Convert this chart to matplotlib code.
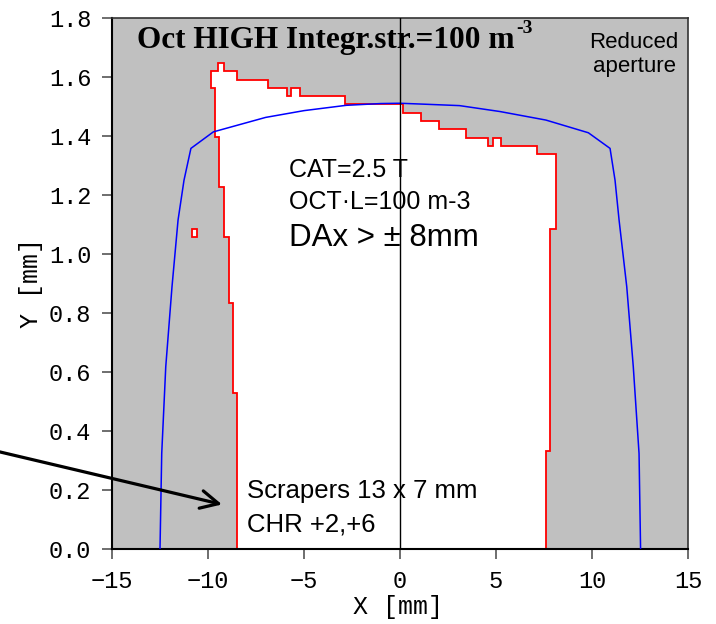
import numpy as np
import matplotlib.pyplot as plt
from matplotlib.patches import Polygon, Rectangle

# dynamic aperture boundary (red staircase), stored as steps
top_edges = [-9.86, -9.5, -9.17, -8.47, -6.86, -5.9, -5.69, -5.21, -2.88,
             0.14, 1.08, 2.01, 3.44, 4.57, 4.83, 5.24, 7.12, 8.11]
top_levels = [1.62, 1.646, 1.62, 1.59, 1.562, 1.536, 1.562, 1.535, 1.507,
              1.477, 1.452, 1.423, 1.394, 1.366, 1.394, 1.366, 1.339]
left_x = [-9.86, -9.65, -9.41, -9.17, -8.92, -8.71, -8.47]
left_breaks = [1.62, 1.562, 1.398, 1.228, 1.057, 0.835, 0.528, 0.0]
right_x = [8.11, 7.83, 7.6]
right_breaks = [1.339, 1.086, 0.333, 0.0]

# isolated stable island
island = (-10.83, 1.057, 0.27, 0.029)

# physical aperture (blue)
aper_x = [-12.5, -12.41, -12.2, -11.875, -11.56, -11.25, -10.89, -9.72,
          -7.0, -5.0, -2.8, -1.0, 0.0, 1.2, 3.1, 5.2, 7.6, 9.81, 10.94,
          11.2, 11.41, 11.81, 12.15, 12.45, 12.53]
aper_y = [0.0, 0.324, 0.618, 0.889, 1.115, 1.25, 1.358, 1.414,
          1.463, 1.486, 1.504, 1.510, 1.511, 1.508, 1.503, 1.483, 1.454,
          1.411, 1.358, 1.25, 1.115, 0.889, 0.618, 0.324, 0.0]

xticks = [-15, -10, -5, 0, 5, 10, 15]
yticks = [0.0, 0.2, 0.4, 0.6, 0.8, 1.0, 1.2, 1.4, 1.6, 1.8]


def staircase():
    pts = []
    # left edge, bottom to top
    for i in range(len(left_x) - 1, -1, -1):
        pts.append((left_x[i], left_breaks[i + 1]))
        pts.append((left_x[i], left_breaks[i]))
    # top edge, left to right
    for i in range(len(top_levels)):
        pts.append((top_edges[i], top_levels[i]))
        pts.append((top_edges[i + 1], top_levels[i]))
    # right edge, top to bottom
    for i in range(len(right_x)):
        pts.append((right_x[i], right_breaks[i]))
        pts.append((right_x[i], right_breaks[i + 1]))
    return np.array(pts)


fig = plt.figure(figsize=(7.16, 6.24), dpi=100)
ax = fig.add_axes([112 / 716, 75 / 624, 576 / 716, 531 / 624])
ax.set_facecolor('#c0c0c0')

ax.add_patch(Polygon(staircase(), closed=True, facecolor='white',
                     edgecolor='red', lw=1.3, zorder=2))
ax.add_patch(Rectangle(island[:2], island[2], island[3], facecolor='white',
                       edgecolor='red', lw=1.3, zorder=2))
ax.plot(aper_x, aper_y, color='blue', lw=1.1, zorder=3)
ax.axvline(0, color='black', lw=1.0, zorder=4)

ax.set_xlim(-15, 15)
ax.set_ylim(0, 1.8)
ax.set_xticks(xticks)
ax.set_yticks(yticks)
ax.set_xticklabels([str(v).replace('-', '\u2212') for v in xticks])
ax.set_yticklabels([f'{v:.1f}' for v in yticks])
ax.tick_params(direction='out', length=7, width=1.2, color='#555555',
               labelsize=17, pad=8, labelfontfamily='Liberation Mono')
for side in ['left', 'bottom']:
    ax.spines[side].set_linewidth(1.5)
for side in ['right', 'top']:
    ax.spines[side].set_linewidth(1.2)
    ax.spines[side].set_color('#333333')

fig.text(398 / 716, 1 - 607 / 624, 'X [mm]', ha='center', va='center',
         fontsize=18, family='Liberation Mono')
fig.text(31 / 716, 1 - 283 / 624, 'Y [mm]', ha='center', va='center',
         rotation=90, fontsize=18, family='Liberation Mono')

title = ax.text(-13.7, 1.698, 'Oct HIGH Integr.str.=100 m', ha='left',
                va='baseline', fontsize=22.5, fontweight='bold',
                family='Liberation Serif', zorder=5)
ax.annotate('-3', xy=(1, 0.62), xycoords=title, xytext=(1, 0),
            textcoords='offset points', ha='left', va='bottom',
            fontsize=14, fontweight='bold', family='Liberation Serif',
            zorder=5)

ax.text(12.19, 1.618, 'Reduced\naperture', ha='center', va='baseline',
        fontsize=16, family='Liberation Sans', linespacing=1.15, zorder=5)

ax.text(-5.8, 1.261, 'CAT=2.5 T', ha='left', va='baseline', fontsize=18,
        family='Liberation Sans', zorder=5)
ax.text(-5.8, 1.154, 'OCT\u00b7L=100 m-3', ha='left', va='baseline',
        fontsize=18, family='Liberation Sans', zorder=5)
ax.text(-5.77, 1.027, 'DAx > \u00b1 8mm', ha='left', va='baseline',
        fontsize=22.5, family='Liberation Sans', zorder=5)

ax.text(-7.98, 0.174, 'Scrapers 13 x 7 mm', ha='left', va='baseline',
        fontsize=18.5, family='Liberation Sans', zorder=5)
ax.text(-7.98, 0.059, 'CHR +2,+6', ha='left', va='baseline',
        fontsize=18.5, family='Liberation Sans', zorder=5)

ax.annotate('', xy=(-9.27, 0.151), xytext=(-20.9, 0.33),
            annotation_clip=False,
            arrowprops=dict(arrowstyle='->', lw=2.3, color='black',
                            mutation_scale=32, shrinkA=0, shrinkB=0),
            zorder=6)

fig.savefig('out.png', dpi=100)
